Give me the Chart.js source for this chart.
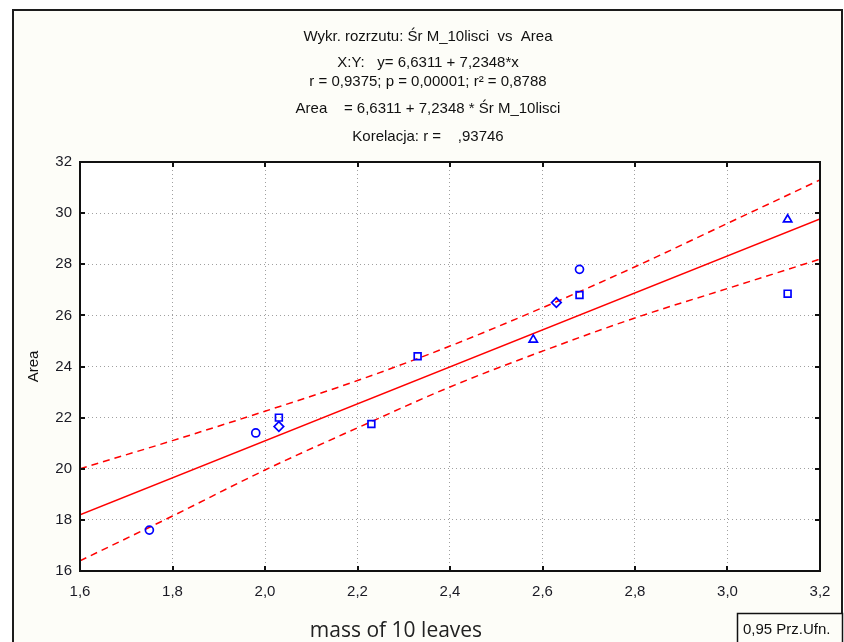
<!DOCTYPE html>
<html>
<head>
<meta charset="utf-8">
<script src="https://cdn.jsdelivr.net/npm/chart.js@4.4.1/dist/chart.umd.min.js"></script>
<style>
html, body { margin: 0; padding: 0; background: #ffffff; }
#wrap { position: relative; width: 844px; height: 642px; }
</style>
</head>
<body>
<div id="wrap"><canvas id="scatterChart"></canvas></div>
<script>
// mass of 10 leaves (x) vs leaf area (y)
const massX = [1.75, 1.98, 2.03, 2.03, 2.23, 2.33, 2.58, 2.63, 2.68, 2.68, 3.13, 3.13];
const areaY = [17.6, 21.4, 22.0, 21.65, 21.75, 24.4, 25.05, 26.5, 27.8, 26.8, 26.85, 29.75];
const markerStyles = ['circle', 'circle', 'rect', 'rectRot', 'rect', 'rect', 'triangle', 'rectRot', 'circle', 'rect', 'rect', 'triangle'];

// fitted line, read at the plot edges
const fitX = [1.6, 3.2];
const fitY = [18.2, 29.77];

// 0.95 confidence band
const bandX = [1.6, 1.8, 2.0, 2.2, 2.4, 2.6, 2.8, 3.0, 3.2];
const bandUpper = [20.0, 21.1, 22.25, 23.45, 24.8, 26.3, 27.9, 29.6, 31.3];
const bandLower = [16.4, 18.15, 19.95, 21.6, 23.2, 24.6, 25.9, 27.05, 28.2];

const xTicks = [1.6, 1.8, 2.0, 2.2, 2.4, 2.6, 2.8, 3.0, 3.2];
const yTicks = [16, 18, 20, 22, 24, 26, 28, 30, 32];

const titleLines = [
    'Wykr. rozrzutu: Śr M_10lisci  vs  Area',
    'X:Y:   y= 6,6311 + 7,2348*x',
    'r = 0,9375; p = 0,00001; r² = 0,8788',
    'Area    = 6,6311 + 7,2348 * Śr M_10lisci',
    'Korelacja: r =    ,93746'
];
const titleY = [37, 63, 82, 109, 137];

const FONT = '"Liberation Sans", Arial, sans-serif';
Chart.defaults.font.family = FONT;
Chart.defaults.font.size = 15;
Chart.defaults.color = '#1a1a24';

function toPoints(xs, ys) {
    return xs.map((x, i) => ({ x: x, y: ys[i] }));
}

const framePlugin = {
    id: 'frame',
    beforeDraw(chart) {
        const ctx = chart.ctx;
        const a = chart.chartArea;
        ctx.save();
        ctx.fillStyle = '#fdfdf8';
        ctx.fillRect(12, 9, 830, 650);
        ctx.strokeStyle = '#1c1c1c';
        ctx.lineWidth = 2;
        ctx.strokeRect(13, 10, 829, 650);
        ctx.fillStyle = '#ffffff';
        ctx.fillRect(a.left, a.top, a.width, a.height);
        ctx.restore();
    },
    afterDraw(chart) {
        const ctx = chart.ctx;
        const a = chart.chartArea;
        const xs = chart.scales.x;
        const ys = chart.scales.y;
        ctx.save();

        // plot border and inward ticks
        ctx.strokeStyle = '#111111';
        ctx.lineWidth = 2;
        ctx.strokeRect(a.left, a.top, a.width, a.height);
        ctx.beginPath();
        xTicks.forEach(v => {
            const px = Math.round(xs.getPixelForValue(v));
            ctx.moveTo(px, a.bottom); ctx.lineTo(px, a.bottom - 5);
            ctx.moveTo(px, a.top); ctx.lineTo(px, a.top + 5);
        });
        yTicks.forEach(v => {
            const py = Math.round(ys.getPixelForValue(v));
            ctx.moveTo(a.left, py); ctx.lineTo(a.left + 5, py);
            ctx.moveTo(a.right, py); ctx.lineTo(a.right - 5, py);
        });
        ctx.stroke();

        // titles
        ctx.fillStyle = '#111111';
        ctx.font = '15px ' + FONT;
        ctx.textAlign = 'center';
        ctx.textBaseline = 'middle';
        titleLines.forEach((t, i) => ctx.fillText(t, 428, titleY[i]));

        // y axis title
        ctx.save();
        ctx.translate(34, (a.top + a.bottom) / 2);
        ctx.rotate(-Math.PI / 2);
        ctx.fillText('Area', 0, 0);
        ctx.restore();

        // x axis title
        ctx.font = '21px "Open Sans", sans-serif';
        ctx.fillStyle = '#222222';
        ctx.textBaseline = 'alphabetic';
        ctx.fillText('mass of 10 leaves', 396, 637);

        // legend box
        ctx.fillStyle = '#fdfdf8';
        ctx.fillRect(737, 613, 106, 30);
        ctx.strokeStyle = '#111111';
        ctx.lineWidth = 1.5;
        ctx.strokeRect(737.5, 613.5, 105, 40);
        ctx.fillStyle = '#111111';
        ctx.font = '15px ' + FONT;
        ctx.textAlign = 'left';
        ctx.fillText('0,95 Prz.Ufn.', 743, 634);
        ctx.restore();
    }
};

const ctx = document.getElementById('scatterChart').getContext('2d');
new Chart(ctx, {
    type: 'scatter',
    data: {
        datasets: [
            {
                label: 'Area',
                data: toPoints(massX, areaY),
                pointStyle: markerStyles,
                pointRadius: c => markerStyles[c.dataIndex] === 'circle' ? 4 : 4.8,
                borderColor: '#0000ff',
                backgroundColor: 'rgba(0,0,0,0)',
                borderWidth: 1.7,
                order: 0
            },
            {
                label: 'fit',
                data: toPoints(fitX, fitY),
                showLine: true,
                borderColor: '#ff0000',
                borderWidth: 1.5,
                pointRadius: 0,
                order: 1
            },
            {
                label: 'upper',
                data: toPoints(bandX, bandUpper),
                showLine: true,
                cubicInterpolationMode: 'monotone',
                borderColor: '#ff0000',
                borderWidth: 1.5,
                borderDash: [7, 5],
                pointRadius: 0,
                order: 2
            },
            {
                label: 'lower',
                data: toPoints(bandX, bandLower),
                showLine: true,
                cubicInterpolationMode: 'monotone',
                borderColor: '#ff0000',
                borderWidth: 1.5,
                borderDash: [7, 5],
                pointRadius: 0,
                order: 3
            }
        ]
    },
    options: {
        responsive: true,
        maintainAspectRatio: false,
        animation: false,
        layout: { padding: { left: 0, top: 162, right: 24, bottom: 0 } },
        plugins: {
            legend: { display: false },
            tooltip: { enabled: false }
        },
        scales: {
            x: {
                type: 'linear',
                min: 1.6,
                max: 3.2,
                afterBuildTicks: axis => { axis.ticks = xTicks.map(v => ({ value: v })); },
                afterFit: scale => { scale.height = 71; },
                grid: { color: '#a0a0a0', lineWidth: 1, drawTicks: false },
                border: { display: false, dash: [1, 3] },
                ticks: {
                    padding: 12,
                    maxRotation: 0,
                    callback: v => v.toFixed(1).replace('.', ',')
                }
            },
            y: {
                min: 16,
                max: 32,
                afterBuildTicks: axis => { axis.ticks = yTicks.map(v => ({ value: v })); },
                afterFit: scale => { scale.width = 80; },
                grid: { color: '#a0a0a0', lineWidth: 1, drawTicks: false },
                border: { display: false, dash: [1, 3] },
                ticks: {
                    padding: 8,
                    callback: v => String(v)
                }
            }
        }
    },
    plugins: [framePlugin]
});
</script>
</body>
</html>
